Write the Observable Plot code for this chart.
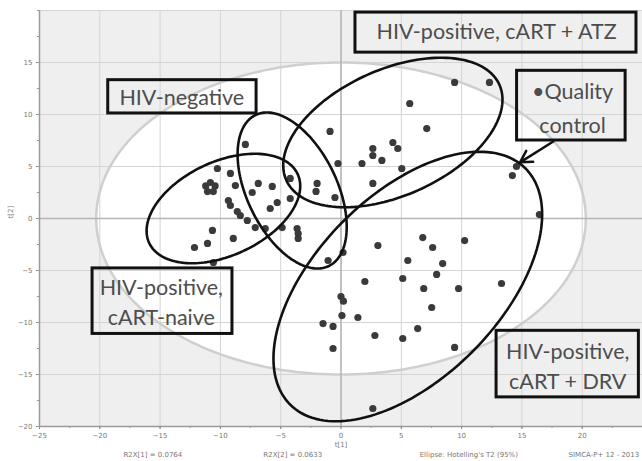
<!DOCTYPE html>
<html>
<head>
<meta charset="utf-8">
<script src="https://cdn.jsdelivr.net/npm/d3@7"></script>
<script src="https://cdn.jsdelivr.net/npm/@observablehq/plot@0.6"></script>
<style>
  html, body { margin: 0; padding: 0; background: #fff; }
  #chart { width: 642px; height: 461px; overflow: hidden; }
</style>
</head>
<body>
<div id="chart"></div>
<script>
// Score values t[1], t[2]
const ptX = [-7.93,-10.25,-9.17,-10.83,-10.44,-10.59,-11.07,-11.22,-8.76,-6.86,-5.70,-7.36,-9.34,-9.17,-8.60,-5.29,-4.21,-5.87,-8.35,-7.77,-7.11,-6.28,-4.88,-3.64,-3.55,-3.55,-10.66,-11.07,-12.15,-8.93,-10.58,
  -4.21,-1.98,-2.07,-0.50,-0.91,-0.25,-1.07,0.17,
  1.74,2.64,2.64,3.39,4.30,4.71,2.64,5.04,5.70,7.11,9.42,12.31,
  14.55,14.21,16.45,
  3.06,6.78,7.60,10.25,5.54,8.43,7.93,1.98,5.12,6.86,9.75,13.31,7.52,0.0,0.2,0.08,1.40,-1.49,-0.66,2.81,5.12,6.36,-0.66,9.42,2.64];
const ptY = [7.12,4.81,4.33,3.46,3.13,2.59,2.59,3.13,3.17,3.37,3.08,2.50,1.73,1.25,0.67,1.54,1.92,0.96,0.29,-0.19,-0.87,-0.96,-0.87,-0.96,-1.44,-1.92,-1.15,-2.40,-2.79,-1.92,-4.23,
  3.85,3.37,2.60,2.02,8.37,5.29,-4.04,-3.27,
  5.29,6.73,6.06,5.58,7.31,6.73,3.37,4.81,11.06,8.65,13.08,13.08,
  5.00,4.13,0.38,
  -2.60,-1.83,-2.79,-2.12,-4.04,-4.33,-5.38,-6.06,-5.77,-6.73,-6.73,-6.25,-8.56,-7.50,-7.95,-9.33,-9.52,-10.10,-10.38,-11.25,-11.54,-10.58,-12.50,-12.40,-18.27];

// Hand-drawn group ellipses: centre and two conjugate semi-axes (data units)
const groupNames = ["cART-naive", "HIV-negative", "cART + ATZ", "cART + DRV"];
const groupCX = [-9.75, -4.05, 4.30, 5.54];
const groupCY = [0.96, 2.69, 8.27, -6.54];
const groupUX = [6.16, 3.04, 8.84, 9.76];
const groupUY = [3.30, -7.26, 4.58, 11.35];
const groupVX = [-1.62, 3.35, -2.12, -5.37];
const groupVY = [4.10, 1.89, 5.54, 6.25];

// Hotelling's T2 ellipse semi-axes
const hotA = 20.3, hotB = 15;

const xTicks = [-25,-20,-15,-10,-5,0,5,10,15,20];
const yTicks = [-20,-15,-10,-5,0,5,10,15];

const labelTexts = ["HIV-positive, cART + ATZ", "HIV-negative", "\u2022Quality\ncontrol", "HIV-positive,\ncART-naive", "HIV-positive,\ncART + DRV"];
const labelX = [12.9, -13.2, 19.2, -14.9, 18.8];
const labelY = [17.9, 11.6, 10.9, -7.9, -14.0];
const boxX1 = [1.2, -19.3, 14.6, -20.6, 12.9];
const boxX2 = [24.5, -7.0, 23.6, -9.0, 24.7];
const boxY1 = [19.8, 13.3, 14.2, -4.8, -10.8];
const boxY2 = [15.95, 10.1, 7.5, -11.1, -17.2];

const footerTexts = ["R2X[1] = 0.0764", "R2X[2] = 0.0633", "Ellipse: Hotelling's T2 (95%)", "SIMCA-P+ 12 - 2013"];
const footerX = [-15.6, -4.0, 10.6, 21.8];

// build tables
const points = ptX.map((x, i) => ({x, y: ptY[i]}));
const groupLines = [];
groupNames.forEach((name, g) => {
  for (let k = 0; k <= 160; k++) {
    const t = 2 * Math.PI * k / 160;
    groupLines.push({
      name,
      x: groupCX[g] + groupUX[g] * Math.cos(t) + groupVX[g] * Math.sin(t),
      y: groupCY[g] + groupUY[g] * Math.cos(t) + groupVY[g] * Math.sin(t)
    });
  }
});
const hot = d3.range(0, 201).map(k => {
  const t = Math.PI * k / 200;
  return {x: hotA * Math.cos(t), y1: -hotB * Math.sin(t), y2: hotB * Math.sin(t)};
});
const hotOutline = d3.range(0, 241).map(k => {
  const t = 2 * Math.PI * k / 240;
  return {x: hotA * Math.cos(t), y: hotB * Math.sin(t)};
});
const labels = labelTexts.map((text, i) => ({text, x: labelX[i], y: labelY[i]}));
const boxes = boxX1.map((x1, i) => ({x1, x2: boxX2[i], y1: boxY1[i], y2: boxY2[i]}));
const footer = footerTexts.map((text, i) => ({text, x: footerX[i]}));
const arrow = [{x1: 17.6, y1: 7.4, x2: 14.85, y2: 5.4}];

const font = "Lato, 'Open Sans', sans-serif";
const labelSize = 21.5;

const chart = Plot.plot({
  width: 642,
  height: 461,
  marginLeft: 39,
  marginRight: 0,
  marginTop: 10,
  marginBottom: 35,
  style: {background: "white", fontFamily: "'DejaVu Sans', sans-serif"},
  x: {domain: [-25, 25], label: null},
  y: {domain: [-20, 20], label: null},
  marks: [
    Plot.frame({fill: "#efefef", stroke: null}),
    Plot.areaY(hot, {x: "x", y1: "y1", y2: "y2", fill: "white"}),
    Plot.gridX(d3.range(-25, 25.1, 5), {stroke: "#d4d4d4", strokeOpacity: 1}),
    Plot.gridY(d3.range(-20, 20.1, 5), {stroke: "#d4d4d4", strokeOpacity: 1}),
    Plot.line(hotOutline, {x: "x", y: "y", stroke: "#cfcfcf", strokeWidth: 2.5}),
    Plot.ruleX([0], {stroke: "#b5b5b5", strokeWidth: 1.5}),
    Plot.ruleY([0], {stroke: "#b5b5b5", strokeWidth: 1.5}),
    Plot.ruleX([-25], {stroke: "#9a9a9a", strokeWidth: 1.5}),
    Plot.ruleY([-20], {stroke: "#9a9a9a", strokeWidth: 1.5}),
    Plot.axisX({ticks: xTicks, tickSize: 3, tickPadding: 4, fontSize: 7, color: "#777", label: null}),
    Plot.axisX({ticks: d3.range(-25, 25.1, 2.5), tickSize: 2, text: null, color: "#999", label: null}),
    Plot.axisY({ticks: yTicks, tickSize: 3, tickPadding: 4, fontSize: 7, color: "#777", label: null}),
    Plot.axisY({ticks: d3.range(-20, 20.1, 2.5), tickSize: 2, text: null, color: "#999", label: null}),
    Plot.dot(points, {x: "x", y: "y", r: 3.6, fill: "#3a3a3a", stroke: null}),
    Plot.line(groupLines, {x: "x", y: "y", z: "name", stroke: "#111", strokeWidth: 2.6, curve: "linear"}),
    Plot.rect(boxes, {x1: "x1", x2: "x2", y1: "y1", y2: "y2", fill: "none", stroke: "#111", strokeWidth: 3}),
    Plot.text([labels[0], labels[1]], {x: "x", y: "y", text: "text", fontSize: labelSize, fill: "#4d4d4d", fontFamily: font}),
    Plot.text([labels[2]], {x: "x", y: "y", text: "text", fontSize: labelSize, lineHeight: 1.6, fill: "#4d4d4d", fontFamily: font}),
    Plot.text([labels[3], labels[4]], {x: "x", y: "y", text: "text", fontSize: labelSize, lineHeight: 1.4, fill: "#4d4d4d", fontFamily: font}),
    Plot.arrow(arrow, {x1: "x1", y1: "y1", x2: "x2", y2: "y2", stroke: "#111", strokeWidth: 2.5, headLength: 12}),
    Plot.text(["t[1]"], {frameAnchor: "bottom", dy: 20, fontSize: 7, fill: "#777"}),
    Plot.text(["t[2]"], {frameAnchor: "left", dx: -29, rotate: -90, fontSize: 7, fill: "#777"}),
    Plot.text(footer, {x: "x", text: "text", frameAnchor: "bottom", dy: 30, fontSize: 7, fill: "#777"})
  ]
});
document.getElementById("chart").appendChild(chart);
</script>
</body>
</html>
